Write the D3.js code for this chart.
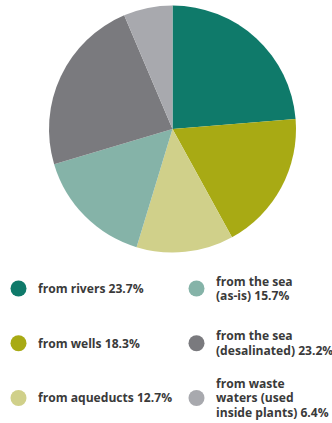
<!DOCTYPE html>
<html>
<head>
<meta charset="utf-8">
<script src="https://cdn.jsdelivr.net/npm/d3@7"></script>
<style>
  body { margin: 0; background: #fff; }
  svg text { font-family: "Open Sans", sans-serif; font-weight: bold; font-size: 12.1px; fill: #3a3a3a; }
</style>
</head>
<body>
<div id="main"></div>
<script>
const ctx = { w: 332, h: 423 };

// sources of water, clockwise from 12 o'clock
const sources = ["rivers", "wells", "aqueducts", "sea as-is", "sea desalinated", "waste waters"];
const shares = [23.7, 18.3, 12.7, 15.7, 23.2, 6.4];
const colours = ["#0f7a6a", "#a8aa14", "#d0d08a", "#85b3a8", "#7a7a7e", "#a8a9ae"];
const labels = [
    ["from rivers 23.7%"],
    ["from wells 18.3%"],
    ["from aqueducts 12.7%"],
    ["from the sea", "(as-is) 15.7%"],
    ["from the sea", "(desalinated) 23.2%"],
    ["from waste", "waters (used", "inside plants) 6.4%"]
];

function createPie(svg) {
    let g = svg.append("g").attr("transform", "translate(172.5,129)");
    let pie = d3.pie().sort(null).value(d => d.v);
    let arc = d3.arc().innerRadius(0).outerRadius(123.5);
    let data = sources.map((s, i) => ({ k: s, v: shares[i] }));
    g.selectAll("path")
        .data(pie(data))
        .enter().append("path")
        .attr("d", arc)
        .style("fill", (d, i) => colours[i]);
}

function createLegend(svg) {
    // three rows, two columns: col 0 holds the first three slices
    let colX = d3.scaleOrdinal().domain([0, 1]).range([18.5, 196.5]);
    let rowY = d3.scalePoint().domain([0, 1, 2]).range([288.5, 398]);
    let item = svg.selectAll(".item")
        .data(sources)
        .enter().append("g")
        .attr("class", "item")
        .attr("transform", (d, i) => "translate(" + colX(Math.floor(i / 3)) + "," + rowY(i % 3) + ")");

    item.append("circle")
        .attr("r", 8)
        .style("fill", (d, i) => colours[i]);

    // one text per line, centred as a block on the dot
    item.each(function(d, i) {
        let lines = labels[i];
        d3.select(this).selectAll("text")
            .data(lines)
            .enter().append("text")
            .attr("x", 19.5)
            .attr("y", (l, j) => (j - (lines.length - 1) / 2) * 14.6)
            .attr("dy", "0.36em")
            .text(l => l);
    });
}

let svgEl = d3.select("#main").append("svg")
    .attr("width", ctx.w)
    .attr("height", ctx.h);
createPie(svgEl);
createLegend(svgEl);
</script>
</body>
</html>
